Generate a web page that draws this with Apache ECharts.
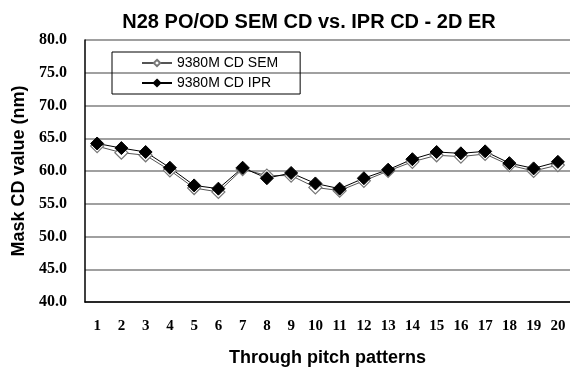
<!DOCTYPE html>
<html>
<head>
<meta charset="utf-8">
<script src="https://cdn.jsdelivr.net/npm/echarts@6/dist/echarts.min.js"></script>
<style>html,body{margin:0;padding:0;background:#fff}#c{width:570px;height:372px}</style>
</head>
<body>
<div id="c"></div>
<script>
const categories = ['1','2','3','4','5','6','7','8','9','10','11','12','13','14','15','16','17','18','19','20'];
const semValues = [63.8, 62.8, 62.4, 60.1, 57.4, 56.8, 60.3, 59.3, 59.3, 57.5, 57.0, 58.5, 60.0, 61.4, 62.4, 62.2, 62.6, 60.9, 60.0, 60.9];
const iprValues = [64.2, 63.5, 62.9, 60.5, 57.8, 57.3, 60.5, 58.9, 59.7, 58.1, 57.3, 58.9, 60.2, 61.8, 62.9, 62.7, 63.0, 61.2, 60.4, 61.4];
const seriesNames = ['9380M CD SEM', '9380M CD IPR'];

const chart = echarts.init(document.getElementById('c'), null, {renderer: 'canvas'});
chart.setOption({
  animation: false,
  backgroundColor: '#fff',
  title: {
    text: 'N28 PO/OD SEM CD vs. IPR CD - 2D ER',
    left: 304, top: 7, textAlign: 'center',
    textStyle: {fontFamily: 'Liberation Sans, Arial', fontWeight: 'bold', fontSize: 20, color: '#000'}
  },
  legend: {
    orient: 'vertical', left: 112, top: 52,
    data: seriesNames,
    borderColor: '#000', borderWidth: 1,
    padding: [4, 22, 4, 29],
    itemWidth: 30, itemHeight: 8, itemGap: 6,
    textStyle: {fontFamily: 'Liberation Sans, Arial', fontSize: 14, color: '#000'}
  },
  grid: {left: 85, right: 0, top: 40, bottom: 66, containLabel: false},
  xAxis: {
    type: 'category', data: categories, boundaryGap: true,
    name: 'Through pitch patterns', nameLocation: 'middle', nameGap: 47,
    nameTextStyle: {fontFamily: 'Liberation Sans, Arial', fontWeight: 'bold', fontSize: 18, color: '#000'},
    axisLine: {lineStyle: {color: '#000', width: 1.5}},
    axisTick: {inside: true, length: 4, lineStyle: {color: '#000'}},
    axisLabel: {margin: 17, fontFamily: 'Liberation Serif, Times New Roman', fontWeight: 'bold', fontSize: 15, color: '#000'}
  },
  yAxis: {
    type: 'value', min: 40, max: 80, interval: 5,
    name: 'Mask CD value (nm)', nameLocation: 'middle', nameGap: 57, nameRotate: 90,
    nameTextStyle: {fontFamily: 'Liberation Sans, Arial', fontWeight: 'bold', fontSize: 18, color: '#000'},
    axisLine: {show: true, lineStyle: {color: '#000', width: 1.5}},
    axisTick: {show: false},
    axisLabel: {margin: 18, fontFamily: 'Liberation Serif, Times New Roman', fontWeight: 'bold', fontSize: 16, color: '#000',
      formatter: v => v.toFixed(1)},
    splitLine: {show: true, lineStyle: {color: '#808080', width: 1.5}}
  },
  series: [
    {
      name: seriesNames[0], type: 'line', data: semValues,
      symbol: 'diamond', symbolSize: 13,
      lineStyle: {color: '#555', width: 1},
      itemStyle: {color: '#fff', borderColor: '#777', borderWidth: 1.2}
    },
    {
      name: seriesNames[1], type: 'line', data: iprValues,
      symbol: 'diamond', symbolSize: 13,
      lineStyle: {color: '#000', width: 1},
      itemStyle: {color: '#000', borderColor: '#000', borderWidth: 1}
    }
  ]
});
</script>
</body>
</html>
